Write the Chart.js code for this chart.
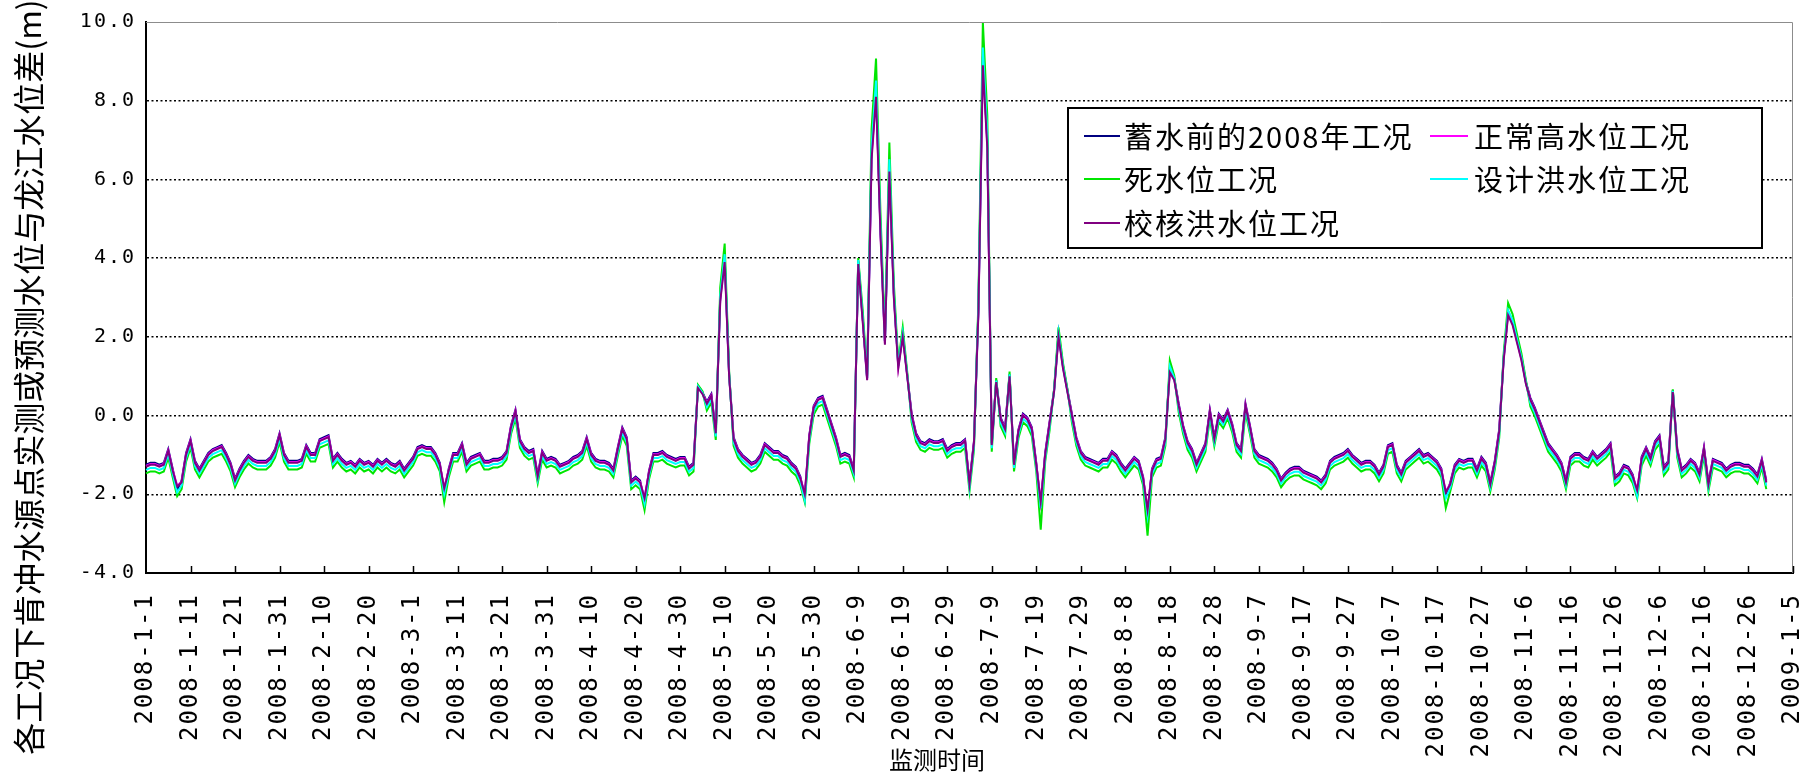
<!DOCTYPE html>
<html lang="zh-CN">
<head>
<meta charset="utf-8">
<title>各工况水位差</title>
<script src="https://cdn.jsdelivr.net/npm/chart.js@4.4.1/dist/chart.umd.min.js"></script>
<style>
  html, body { margin: 0; padding: 0; background: #fff; }
  #chart { display: block; }
</style>
</head>
<body>
<canvas id="chart" width="1818" height="779"></canvas>
<script>
// Axis: one category per day from 2008-1-1 to 2009-1-5, label every 10 days
const startDate = [2008, 1, 1];
const dayCount = 371;
const labelEvery = 10;
const yTicks = [-4, -2, 0, 2, 4, 6, 8, 10];

const yTitle = '各工况下肯冲水源点实测或预测水位与龙江水位差(m)';
const xTitle = '监测时间';

const seriesNames = ['蓄水前的2008年工况', '正常高水位工况', '死水位工况', '设计洪水位工况', '校核洪水位工况'];
const seriesColors = ['#000080', '#ff00ff', '#00e600', '#00ffff', '#800080'];

// daily water level difference (m), one row = 10 days
const before2008 = [
  -1.25,-1.20,-1.20,-1.25,-1.20,-0.85,-1.35,-1.90,-1.65,-0.95,
  -0.60,-1.15,-1.35,-1.15,-0.95,-0.85,-0.80,-0.75,-0.95,-1.20,
  -1.60,-1.35,-1.15,-1.00,-1.10,-1.15,-1.15,-1.15,-1.05,-0.85,
  -0.45,-0.95,-1.15,-1.15,-1.15,-1.10,-0.75,-0.95,-0.95,-0.60,
  -0.55,-0.50,-1.10,-0.95,-1.10,-1.20,-1.15,-1.25,-1.10,-1.20,
  -1.15,-1.25,-1.10,-1.20,-1.10,-1.20,-1.25,-1.15,-1.35,-1.20,
  -1.05,-0.80,-0.75,-0.80,-0.80,-0.95,-1.20,-1.95,-1.35,-0.95,
  -0.95,-0.70,-1.20,-1.05,-1.00,-0.95,-1.15,-1.15,-1.10,-1.10,
  -1.05,-0.90,-0.25,0.15,-0.60,-0.80,-0.90,-0.85,-1.50,-0.90,
  -1.10,-1.05,-1.10,-1.25,-1.20,-1.15,-1.05,-1.00,-0.90,-0.55,
  -0.95,-1.10,-1.15,-1.15,-1.20,-1.35,-0.80,-0.30,-0.55,-1.65,
  -1.55,-1.65,-2.20,-1.40,-0.95,-0.95,-0.90,-1.00,-1.05,-1.10,
  -1.05,-1.05,-1.30,-1.20,0.75,0.60,0.35,0.55,-0.40,3.01,
  4.03,1.05,-0.55,-0.85,-1.00,-1.10,-1.20,-1.15,-1.00,-0.70,
  -0.80,-0.90,-0.90,-1.00,-1.05,-1.20,-1.30,-1.55,-2.10,-0.50,
  0.25,0.45,0.50,0.15,-0.20,-0.55,-1.00,-0.95,-1.00,-1.35,
  3.92,2.50,0.95,6.68,8.31,4.74,1.89,6.37,3.11,1.27,
  2.09,1.05,0.05,-0.45,-0.65,-0.70,-0.60,-0.65,-0.65,-0.60,
  -0.85,-0.75,-0.70,-0.70,-0.60,-1.70,-0.65,2.70,9.13,6.99,
  -0.70,0.90,-0.05,-0.30,1.05,-1.20,-0.35,0.05,-0.05,-0.30,
  -1.20,-2.30,-0.95,-0.15,0.65,2.09,1.27,0.65,0.05,-0.55,
  -0.90,-1.05,-1.10,-1.15,-1.20,-1.10,-1.10,-0.90,-1.00,-1.20,
  -1.35,-1.20,-1.05,-1.15,-1.55,-2.50,-1.35,-1.10,-1.05,-0.55,
  1.17,0.95,0.30,-0.25,-0.65,-0.85,-1.20,-0.95,-0.70,0.15,
  -0.55,0.05,-0.10,0.15,-0.20,-0.70,-0.85,0.30,-0.25,-0.85,
  -1.00,-1.05,-1.10,-1.20,-1.35,-1.60,-1.45,-1.35,-1.30,-1.30,
  -1.40,-1.45,-1.50,-1.55,-1.65,-1.50,-1.15,-1.05,-1.00,-0.95,
  -0.85,-1.00,-1.10,-1.20,-1.15,-1.15,-1.25,-1.45,-1.25,-0.75,
  -0.70,-1.25,-1.45,-1.15,-1.05,-0.95,-0.85,-1.00,-0.95,-1.05,
  -1.15,-1.35,-2.05,-1.70,-1.25,-1.10,-1.15,-1.10,-1.10,-1.35,
  -1.05,-1.20,-1.70,-1.15,-0.35,1.48,2.65,2.40,1.94,1.48,
  0.85,0.45,0.20,-0.10,-0.40,-0.70,-0.85,-1.00,-1.20,-1.65,
  -1.05,-0.95,-0.95,-1.05,-1.10,-0.90,-1.05,-0.95,-0.85,-0.70,
  -1.55,-1.45,-1.25,-1.30,-1.50,-2.00,-1.05,-0.80,-1.05,-0.65,
  -0.50,-1.30,-1.15,0.65,-0.85,-1.35,-1.25,-1.10,-1.20,-1.45,
  -0.80,-1.70,-1.10,-1.15,-1.20,-1.35,-1.25,-1.20,-1.20,-1.25,
  -1.25,-1.35,-1.50,-1.10,-1.65
];

const normalHigh = [
  -1.28,-1.23,-1.23,-1.28,-1.23,-0.88,-1.38,-1.78,-1.68,-0.98,
  -0.63,-1.18,-1.38,-1.18,-0.98,-0.88,-0.83,-0.78,-0.98,-1.23,
  -1.63,-1.38,-1.18,-1.03,-1.13,-1.18,-1.18,-1.18,-1.08,-0.88,
  -0.48,-0.98,-1.18,-1.18,-1.18,-1.13,-0.78,-0.98,-0.98,-0.63,
  -0.58,-0.53,-1.13,-0.98,-1.13,-1.23,-1.18,-1.28,-1.13,-1.23,
  -1.18,-1.28,-1.13,-1.23,-1.13,-1.23,-1.28,-1.18,-1.38,-1.23,
  -1.08,-0.83,-0.78,-0.83,-0.83,-0.98,-1.23,-1.83,-1.38,-0.98,
  -0.98,-0.73,-1.23,-1.08,-1.03,-0.98,-1.18,-1.18,-1.13,-1.13,
  -1.08,-0.93,-0.28,0.12,-0.63,-0.83,-0.93,-0.88,-1.53,-0.93,
  -1.13,-1.08,-1.13,-1.28,-1.23,-1.18,-1.08,-1.03,-0.93,-0.58,
  -0.98,-1.13,-1.18,-1.18,-1.23,-1.38,-0.83,-0.33,-0.58,-1.68,
  -1.58,-1.68,-2.08,-1.43,-0.98,-0.98,-0.93,-1.03,-1.08,-1.13,
  -1.08,-1.08,-1.33,-1.23,0.72,0.57,0.32,0.52,-0.43,2.95,
  3.96,1.02,-0.58,-0.88,-1.03,-1.13,-1.23,-1.18,-1.03,-0.73,
  -0.83,-0.93,-0.93,-1.03,-1.08,-1.23,-1.33,-1.58,-1.98,-0.53,
  0.22,0.42,0.47,0.12,-0.23,-0.58,-1.03,-0.98,-1.03,-1.38,
  3.88,2.44,0.92,6.59,8.20,4.67,1.84,6.28,3.05,1.23,
  2.04,1.02,0.02,-0.48,-0.68,-0.73,-0.63,-0.68,-0.68,-0.63,
  -0.88,-0.78,-0.73,-0.73,-0.63,-1.73,-0.68,2.65,9.01,6.89,
  -0.73,0.87,-0.08,-0.33,1.02,-1.23,-0.38,0.02,-0.08,-0.33,
  -1.23,-2.18,-0.98,-0.18,0.62,2.04,1.23,0.62,0.02,-0.58,
  -0.93,-1.08,-1.13,-1.18,-1.23,-1.13,-1.13,-0.93,-1.03,-1.23,
  -1.38,-1.23,-1.08,-1.18,-1.58,-2.38,-1.38,-1.13,-1.08,-0.58,
  1.13,0.92,0.27,-0.28,-0.68,-0.88,-1.23,-0.98,-0.73,0.12,
  -0.58,0.02,-0.13,0.12,-0.23,-0.73,-0.88,0.27,-0.28,-0.88,
  -1.03,-1.08,-1.13,-1.23,-1.38,-1.63,-1.48,-1.38,-1.33,-1.33,
  -1.43,-1.48,-1.53,-1.58,-1.68,-1.53,-1.18,-1.08,-1.03,-0.98,
  -0.88,-1.03,-1.13,-1.23,-1.18,-1.18,-1.28,-1.48,-1.28,-0.78,
  -0.73,-1.28,-1.48,-1.18,-1.08,-0.98,-0.88,-1.03,-0.98,-1.08,
  -1.18,-1.38,-1.93,-1.73,-1.28,-1.13,-1.18,-1.13,-1.13,-1.38,
  -1.08,-1.23,-1.73,-1.18,-0.38,1.43,2.60,2.34,1.89,1.43,
  0.82,0.42,0.17,-0.13,-0.43,-0.73,-0.88,-1.03,-1.23,-1.68,
  -1.08,-0.98,-0.98,-1.08,-1.13,-0.93,-1.08,-0.98,-0.88,-0.73,
  -1.58,-1.48,-1.28,-1.33,-1.53,-1.88,-1.08,-0.83,-1.08,-0.68,
  -0.53,-1.33,-1.18,0.62,-0.88,-1.38,-1.28,-1.13,-1.23,-1.48,
  -0.83,-1.73,-1.13,-1.18,-1.23,-1.38,-1.28,-1.23,-1.23,-1.28,
  -1.28,-1.38,-1.53,-1.13,-1.68
];

const deadLevel = [
  -1.47,-1.42,-1.42,-1.47,-1.42,-1.07,-1.57,-2.05,-1.87,-1.17,
  -0.82,-1.37,-1.57,-1.37,-1.17,-1.07,-1.02,-0.97,-1.17,-1.42,
  -1.82,-1.57,-1.37,-1.22,-1.32,-1.37,-1.37,-1.37,-1.27,-1.07,
  -0.67,-1.17,-1.37,-1.37,-1.37,-1.32,-0.97,-1.17,-1.17,-0.82,
  -0.77,-0.72,-1.32,-1.17,-1.32,-1.42,-1.37,-1.47,-1.32,-1.42,
  -1.37,-1.47,-1.32,-1.42,-1.32,-1.42,-1.47,-1.37,-1.57,-1.42,
  -1.27,-1.02,-0.97,-1.02,-1.02,-1.17,-1.42,-2.20,-1.57,-1.17,
  -1.17,-0.92,-1.42,-1.27,-1.22,-1.17,-1.37,-1.37,-1.32,-1.32,
  -1.27,-1.12,-0.47,-0.07,-0.82,-1.02,-1.12,-1.07,-1.72,-1.12,
  -1.32,-1.27,-1.32,-1.47,-1.42,-1.37,-1.27,-1.22,-1.12,-0.77,
  -1.17,-1.32,-1.37,-1.37,-1.42,-1.57,-1.02,-0.52,-0.77,-1.87,
  -1.77,-1.87,-2.40,-1.62,-1.17,-1.17,-1.12,-1.22,-1.27,-1.32,
  -1.27,-1.27,-1.52,-1.42,0.78,0.62,0.13,0.33,-0.62,3.25,
  4.37,1.12,-0.77,-1.07,-1.22,-1.32,-1.42,-1.37,-1.22,-0.92,
  -1.02,-1.12,-1.12,-1.22,-1.27,-1.42,-1.52,-1.77,-2.20,-0.72,
  0.03,0.23,0.28,-0.07,-0.42,-0.77,-1.22,-1.17,-1.22,-1.57,
  4.00,2.69,1.01,7.28,9.07,5.15,2.02,6.94,3.36,1.34,
  2.24,1.12,-0.17,-0.67,-0.87,-0.92,-0.82,-0.87,-0.87,-0.82,
  -1.07,-0.97,-0.92,-0.92,-0.82,-1.92,-0.87,2.91,10.00,7.62,
  -0.92,0.95,-0.27,-0.52,1.12,-1.42,-0.57,-0.17,-0.27,-0.52,
  -1.42,-2.90,-1.17,-0.37,0.67,2.24,1.34,0.67,-0.17,-0.77,
  -1.12,-1.27,-1.32,-1.37,-1.42,-1.32,-1.32,-1.12,-1.22,-1.42,
  -1.57,-1.42,-1.27,-1.37,-1.77,-3.05,-1.57,-1.32,-1.27,-0.77,
  1.40,1.01,0.08,-0.47,-0.87,-1.07,-1.42,-1.17,-0.92,-0.07,
  -0.77,-0.17,-0.32,-0.07,-0.42,-0.92,-1.07,0.08,-0.47,-1.07,
  -1.22,-1.27,-1.32,-1.42,-1.57,-1.82,-1.67,-1.57,-1.52,-1.52,
  -1.62,-1.67,-1.72,-1.77,-1.87,-1.72,-1.37,-1.27,-1.22,-1.17,
  -1.07,-1.22,-1.32,-1.42,-1.37,-1.37,-1.47,-1.67,-1.47,-0.97,
  -0.92,-1.47,-1.67,-1.37,-1.27,-1.17,-1.07,-1.22,-1.17,-1.27,
  -1.37,-1.57,-2.35,-1.92,-1.47,-1.32,-1.37,-1.32,-1.32,-1.57,
  -1.27,-1.42,-1.92,-1.37,-0.57,1.57,2.86,2.58,2.07,1.57,
  0.90,0.23,-0.02,-0.32,-0.62,-0.92,-1.07,-1.22,-1.42,-1.87,
  -1.27,-1.17,-1.17,-1.27,-1.32,-1.12,-1.27,-1.17,-1.07,-0.92,
  -1.77,-1.67,-1.47,-1.52,-1.72,-2.10,-1.27,-1.02,-1.27,-0.87,
  -0.72,-1.52,-1.37,0.67,-1.07,-1.57,-1.47,-1.32,-1.42,-1.67,
  -1.02,-1.92,-1.32,-1.37,-1.42,-1.57,-1.47,-1.42,-1.42,-1.47,
  -1.47,-1.57,-1.72,-1.32,-1.87
];

const designFlood = [
  -1.38,-1.33,-1.33,-1.38,-1.33,-0.98,-1.48,-1.95,-1.78,-1.08,
  -0.73,-1.28,-1.48,-1.28,-1.08,-0.98,-0.93,-0.88,-1.08,-1.33,
  -1.73,-1.48,-1.28,-1.13,-1.23,-1.28,-1.28,-1.28,-1.18,-0.98,
  -0.58,-1.08,-1.28,-1.28,-1.28,-1.23,-0.88,-1.08,-1.08,-0.73,
  -0.68,-0.63,-1.23,-1.08,-1.23,-1.33,-1.28,-1.38,-1.23,-1.33,
  -1.28,-1.38,-1.23,-1.33,-1.23,-1.33,-1.38,-1.28,-1.48,-1.33,
  -1.18,-0.93,-0.88,-0.93,-0.93,-1.08,-1.33,-2.00,-1.48,-1.08,
  -1.08,-0.83,-1.33,-1.18,-1.13,-1.08,-1.28,-1.28,-1.23,-1.23,
  -1.18,-1.03,-0.38,0.02,-0.73,-0.93,-1.03,-0.98,-1.63,-1.03,
  -1.23,-1.18,-1.23,-1.38,-1.33,-1.28,-1.18,-1.13,-1.03,-0.68,
  -1.08,-1.23,-1.28,-1.28,-1.33,-1.48,-0.93,-0.43,-0.68,-1.78,
  -1.68,-1.78,-2.25,-1.53,-1.08,-1.08,-1.03,-1.13,-1.18,-1.23,
  -1.18,-1.18,-1.43,-1.33,0.74,0.58,0.22,0.42,-0.53,3.05,
  4.10,1.05,-0.68,-0.98,-1.13,-1.23,-1.33,-1.28,-1.13,-0.83,
  -0.93,-1.03,-1.03,-1.13,-1.18,-1.33,-1.43,-1.68,-2.15,-0.63,
  0.12,0.32,0.37,0.02,-0.33,-0.68,-1.13,-1.08,-1.13,-1.48,
  3.95,2.52,0.95,6.83,8.51,4.83,1.89,6.51,3.15,1.26,
  2.10,1.05,-0.08,-0.58,-0.78,-0.83,-0.73,-0.78,-0.78,-0.73,
  -0.98,-0.88,-0.83,-0.83,-0.73,-1.83,-0.78,2.73,9.35,7.14,
  -0.83,0.89,-0.18,-0.43,1.05,-1.33,-0.48,-0.08,-0.18,-0.43,
  -1.33,-2.35,-1.08,-0.28,0.63,2.10,1.26,0.63,-0.08,-0.68,
  -1.03,-1.18,-1.23,-1.28,-1.33,-1.23,-1.23,-1.03,-1.13,-1.33,
  -1.48,-1.33,-1.18,-1.28,-1.68,-2.55,-1.48,-1.23,-1.18,-0.68,
  1.25,0.95,0.17,-0.38,-0.78,-0.98,-1.33,-1.08,-0.83,0.02,
  -0.68,-0.08,-0.23,0.02,-0.33,-0.83,-0.98,0.17,-0.38,-0.98,
  -1.13,-1.18,-1.23,-1.33,-1.48,-1.73,-1.58,-1.48,-1.43,-1.43,
  -1.53,-1.58,-1.63,-1.68,-1.78,-1.63,-1.28,-1.18,-1.13,-1.08,
  -0.98,-1.13,-1.23,-1.33,-1.28,-1.28,-1.38,-1.58,-1.38,-0.88,
  -0.83,-1.38,-1.58,-1.28,-1.18,-1.08,-0.98,-1.13,-1.08,-1.18,
  -1.28,-1.48,-2.10,-1.83,-1.38,-1.23,-1.28,-1.23,-1.23,-1.48,
  -1.18,-1.33,-1.83,-1.28,-0.48,1.47,2.68,2.42,1.94,1.47,
  0.84,0.32,0.07,-0.23,-0.53,-0.83,-0.98,-1.13,-1.33,-1.78,
  -1.18,-1.08,-1.08,-1.18,-1.23,-1.03,-1.18,-1.08,-0.98,-0.83,
  -1.68,-1.58,-1.38,-1.43,-1.63,-2.05,-1.18,-0.93,-1.18,-0.78,
  -0.63,-1.43,-1.28,0.63,-0.98,-1.48,-1.38,-1.23,-1.33,-1.58,
  -0.93,-1.83,-1.23,-1.28,-1.33,-1.48,-1.38,-1.33,-1.33,-1.38,
  -1.38,-1.48,-1.63,-1.23,-1.78
];

const checkFlood = [
  -1.30,-1.25,-1.25,-1.30,-1.25,-0.90,-1.40,-1.80,-1.70,-1.00,
  -0.65,-1.20,-1.40,-1.20,-1.00,-0.90,-0.85,-0.80,-1.00,-1.25,
  -1.65,-1.40,-1.20,-1.05,-1.15,-1.20,-1.20,-1.20,-1.10,-0.90,
  -0.50,-1.00,-1.20,-1.20,-1.20,-1.15,-0.80,-1.00,-1.00,-0.65,
  -0.60,-0.55,-1.15,-1.00,-1.15,-1.25,-1.20,-1.30,-1.15,-1.25,
  -1.20,-1.30,-1.15,-1.25,-1.15,-1.25,-1.30,-1.20,-1.40,-1.25,
  -1.10,-0.85,-0.80,-0.85,-0.85,-1.00,-1.25,-1.85,-1.40,-1.00,
  -1.00,-0.75,-1.25,-1.10,-1.05,-1.00,-1.20,-1.20,-1.15,-1.15,
  -1.10,-0.95,-0.30,0.10,-0.65,-0.85,-0.95,-0.90,-1.55,-0.95,
  -1.15,-1.10,-1.15,-1.30,-1.25,-1.20,-1.10,-1.05,-0.95,-0.60,
  -1.00,-1.15,-1.20,-1.20,-1.25,-1.40,-0.85,-0.35,-0.60,-1.70,
  -1.60,-1.70,-2.10,-1.45,-1.00,-1.00,-0.95,-1.05,-1.10,-1.15,
  -1.10,-1.10,-1.35,-1.25,0.70,0.55,0.30,0.50,-0.45,2.90,
  3.90,1.00,-0.60,-0.90,-1.05,-1.15,-1.25,-1.20,-1.05,-0.75,
  -0.85,-0.95,-0.95,-1.05,-1.10,-1.25,-1.35,-1.60,-2.00,-0.55,
  0.20,0.40,0.45,0.10,-0.25,-0.60,-1.05,-1.00,-1.05,-1.40,
  3.85,2.40,0.90,6.50,8.10,4.60,1.80,6.20,3.00,1.20,
  2.00,1.00,0.00,-0.50,-0.70,-0.75,-0.65,-0.70,-0.70,-0.65,
  -0.90,-0.80,-0.75,-0.75,-0.65,-1.75,-0.70,2.60,8.90,6.80,
  -0.75,0.85,-0.10,-0.35,1.00,-1.25,-0.40,0.00,-0.10,-0.35,
  -1.25,-2.20,-1.00,-0.20,0.60,2.00,1.20,0.60,0.00,-0.60,
  -0.95,-1.10,-1.15,-1.20,-1.25,-1.15,-1.15,-0.95,-1.05,-1.25,
  -1.40,-1.25,-1.10,-1.20,-1.60,-2.40,-1.40,-1.15,-1.10,-0.60,
  1.10,0.90,0.25,-0.30,-0.70,-0.90,-1.25,-1.00,-0.75,0.10,
  -0.60,0.00,-0.15,0.10,-0.25,-0.75,-0.90,0.25,-0.30,-0.90,
  -1.05,-1.10,-1.15,-1.25,-1.40,-1.65,-1.50,-1.40,-1.35,-1.35,
  -1.45,-1.50,-1.55,-1.60,-1.70,-1.55,-1.20,-1.10,-1.05,-1.00,
  -0.90,-1.05,-1.15,-1.25,-1.20,-1.20,-1.30,-1.50,-1.30,-0.80,
  -0.75,-1.30,-1.50,-1.20,-1.10,-1.00,-0.90,-1.05,-1.00,-1.10,
  -1.20,-1.40,-1.95,-1.75,-1.30,-1.15,-1.20,-1.15,-1.15,-1.40,
  -1.10,-1.25,-1.75,-1.20,-0.40,1.40,2.55,2.30,1.85,1.40,
  0.80,0.40,0.15,-0.15,-0.45,-0.75,-0.90,-1.05,-1.25,-1.70,
  -1.10,-1.00,-1.00,-1.10,-1.15,-0.95,-1.10,-1.00,-0.90,-0.75,
  -1.60,-1.50,-1.30,-1.35,-1.55,-1.90,-1.10,-0.85,-1.10,-0.70,
  -0.55,-1.35,-1.20,0.60,-0.90,-1.40,-1.30,-1.15,-1.25,-1.50,
  -0.85,-1.75,-1.15,-1.20,-1.25,-1.40,-1.30,-1.25,-1.25,-1.30,
  -1.30,-1.40,-1.55,-1.15,-1.70
];

const seriesData = [before2008, normalHigh, deadLevel, designFlood, checkFlood];

// category labels: 2008-1-1, 2008-1-2, ...
const dates = [];
for (let i = 0; i < dayCount; i++) {
  const d = new Date(Date.UTC(startDate[0], startDate[1] - 1, startDate[2] + i));
  dates.push(`${d.getUTCFullYear()}-${d.getUTCMonth() + 1}-${d.getUTCDate()}`);
}

const CJK = '"Noto Sans CJK SC", "Noto Sans", sans-serif';
const MONO = '"DejaVu Sans Mono", "Liberation Mono", monospace';

// frame, inward x ticks, axis titles and the boxed legend
const decorations = {
  id: 'decorations',
  beforeDraw(chart) {
    // spaced-out digits for the tick labels
    chart.ctx.letterSpacing = '2px';
  },
  afterDraw(chart) {
    const { ctx, chartArea: a, scales: { x } } = chart;
    ctx.save();
    ctx.letterSpacing = '0px';

    ctx.strokeStyle = '#8c8c8c';
    ctx.lineWidth = 1;
    ctx.beginPath();
    ctx.moveTo(a.left, a.top + 0.5);
    ctx.lineTo(a.right - 0.5, a.top + 0.5);
    ctx.lineTo(a.right - 0.5, a.bottom);
    ctx.stroke();

    ctx.strokeStyle = '#000';
    ctx.lineWidth = 1.5;
    for (let i = labelEvery; i < dates.length; i += labelEvery) {
      const px = Math.round(x.getPixelForValue(i)) + 0.5;
      ctx.beginPath();
      ctx.moveTo(px, a.bottom);
      ctx.lineTo(px, a.bottom - 7);
      ctx.stroke();
    }

    ctx.fillStyle = '#000';
    ctx.textAlign = 'center';
    ctx.textBaseline = 'middle';

    ctx.save();
    ctx.translate(29, 377);
    ctx.rotate(-Math.PI / 2);
    ctx.font = '32px ' + CJK;
    ctx.fillText(yTitle, 0, 0);
    ctx.restore();

    ctx.font = '24px ' + CJK;
    ctx.fillText(xTitle, 937, 760);

    // legend box
    const box = { left: 1068, top: 108, width: 694, height: 140 };
    ctx.fillStyle = '#fff';
    ctx.fillRect(box.left, box.top, box.width, box.height);
    ctx.strokeStyle = '#000';
    ctx.lineWidth = 2;
    ctx.strokeRect(box.left, box.top, box.width, box.height);

    const cols = [{ x0: 1084, x1: 1120, tx: 1124 }, { x0: 1430, x1: 1468, tx: 1474 }];
    const rows = [136, 179, 223];
    ctx.font = '29px ' + CJK;
    ctx.letterSpacing = '2px';
    ctx.textAlign = 'left';
    chart.data.datasets.forEach((ds, i) => {
      const c = cols[i % 2];
      const y = rows[Math.floor(i / 2)];
      ctx.strokeStyle = ds.borderColor;
      ctx.lineWidth = 2;
      ctx.beginPath();
      ctx.moveTo(c.x0, y);
      ctx.lineTo(c.x1, y);
      ctx.stroke();
      ctx.fillStyle = '#000';
      ctx.fillText(ds.label, c.tx, y + 1);
    });
    ctx.restore();
  }
};

new Chart(document.getElementById('chart'), {
  type: 'line',
  data: {
    labels: dates,
    datasets: seriesNames.map((name, i) => ({
      label: name,
      data: seriesData[i],
      borderColor: seriesColors[i],
      backgroundColor: seriesColors[i],
      borderWidth: 2,
      pointRadius: 0,
      tension: 0,
      fill: false,
      order: seriesNames.length - i   // last series drawn on top
    }))
  },
  options: {
    responsive: false,
    animation: false,
    events: [],
    layout: { padding: { top: 15, right: 0, left: 0, bottom: 0 } },
    plugins: {
      legend: { display: false },
      tooltip: { enabled: false }
    },
    scales: {
      x: {
        type: 'category',
        offset: false,
        afterFit: s => {
          s.height = 206;
          s.paddingLeft = 0;
          s.paddingRight = 25;
        },
        grid: { drawOnChartArea: false, drawTicks: false },
        border: { display: true, color: '#000', width: 2 },
        ticks: {
          autoSkip: false,
          minRotation: 90,
          maxRotation: 90,
          padding: 20,
          color: '#000',
          font: { family: MONO, size: 24 },
          callback(value, index) {
            return index % labelEvery === 0 ? this.getLabelForValue(value) : null;
          }
        }
      },
      y: {
        min: -4,
        max: 10,
        afterFit: s => { s.width = 146; },
        afterBuildTicks: s => { s.ticks = yTicks.map(v => ({ value: v })); },
        grid: {
          drawTicks: false,
          lineWidth: 1.5,
          color: c => (c.tick && (c.tick.value === yTicks[0] || c.tick.value === yTicks[yTicks.length - 1])) ? 'rgba(0,0,0,0)' : '#000'
        },
        border: { display: true, color: '#000', width: 2, dash: [2, 2.5] },
        ticks: {
          padding: 10,
          color: '#000',
          font: { family: MONO, size: 20 },
          callback: v => Number(v).toFixed(1)
        }
      }
    }
  },
  plugins: [decorations]
});
</script>
</body>
</html>
